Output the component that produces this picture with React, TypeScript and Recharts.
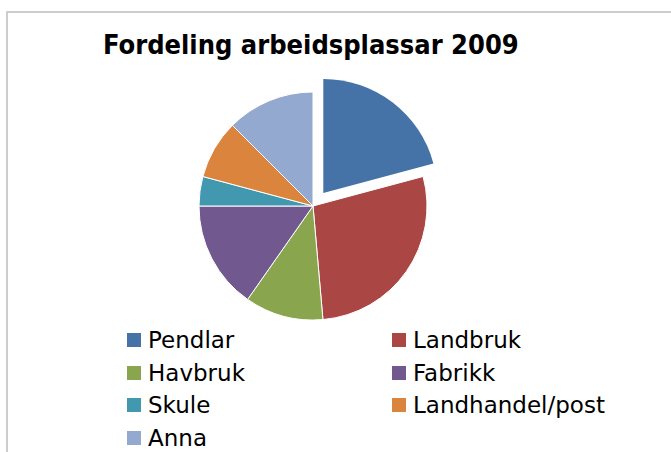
import { PieChart, Pie, Cell, Legend } from "recharts";

const categories = ["Pendlar", "Landbruk", "Havbruk", "Fabrikk", "Skule", "Landhandel/post", "Anna"];
const jobs = [15, 20, 8, 11, 3, 6, 9];
const colors = ["#4572A7", "#AA4643", "#89A54E", "#71588F", "#4198AF", "#DB843D", "#93A9CF"];
const exploded = "Pendlar";

const data = categories.map((name, i) => ({ name, value: jobs[i] }));

const LegendGrid = () => (
  <div
    style={{
      display: "grid",
      gridTemplateColumns: "265px 265px",
      fontFamily: "'DejaVu Sans', sans-serif",
      fontSize: 23,
      color: "#000",
    }}
  >
    {categories.map((name, i) => (
      <div key={name} style={{ display: "flex", alignItems: "center", height: 32.5, lineHeight: "32.5px" }}>
        <span style={{ width: 14, height: 14, background: colors[i], marginRight: 7, flex: "none" }} />
        <span>{name}</span>
      </div>
    ))}
  </div>
);

export default function App() {
  return (
    <div style={{ position: "absolute", left: 0, top: 0, width: 671, height: 452, overflow: "hidden", background: "#fff" }}>
      {/* ramme */}
      <div
        style={{
          position: "absolute",
          left: 6,
          top: 11,
          width: 720,
          height: 520,
          borderTop: "2px solid #cdcdcd",
          borderLeft: "2px solid #cdcdcd",
        }}
      />
      <div
        style={{
          position: "absolute",
          left: 103,
          top: 31.4,
          fontFamily: "'DejaVu Sans Condensed', 'DejaVu Sans', sans-serif",
          fontStretch: "condensed",
          fontWeight: "bold",
          fontSize: 27,
          lineHeight: "27px",
          whiteSpace: "nowrap",
          color: "#000",
        }}
      >
        Fordeling arbeidsplassar 2009
      </div>
      <PieChart
        width={671}
        height={452}
        margin={{ top: 0, right: 0, bottom: 0, left: 0 }}
        style={{ position: "absolute", left: 0, top: 0 }}
      >
        <Pie
          data={data}
          dataKey="value"
          nameKey="name"
          cx={313}
          cy={206}
          outerRadius={114}
          startAngle={90}
          endAngle={-270}
          isAnimationActive={false}
          stroke="#fff"
          strokeWidth={1}
        >
          {data.map((d, i) => (
            <Cell
              key={`cell-${i}`}
              fill={d.name === exploded ? "none" : colors[i]}
              stroke={d.name === exploded ? "none" : "#fff"}
            />
          ))}
        </Pie>
        <Pie
          data={data}
          dataKey="value"
          nameKey="name"
          cx={323.3}
          cy={192.9}
          outerRadius={114}
          startAngle={90}
          endAngle={-270}
          isAnimationActive={false}
          stroke="none"
        >
          {data.map((d, i) => (
            <Cell key={`ex-${i}`} fill={d.name === exploded ? colors[i] : "none"} stroke="none" />
          ))}
        </Pie>
        <Legend
          content={() => <LegendGrid />}
          wrapperStyle={{ position: "absolute", left: 127, top: 324, width: 540, height: 130 }}
        />
      </PieChart>
    </div>
  );
}
